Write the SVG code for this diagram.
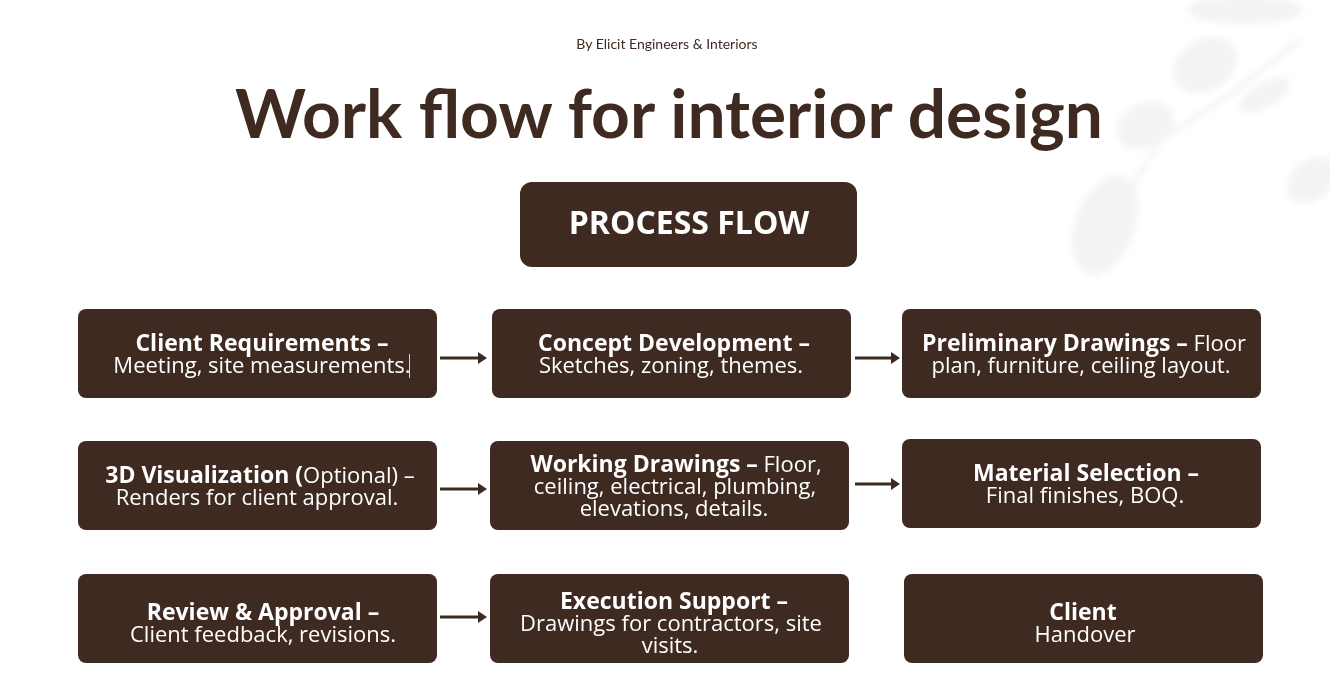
<svg xmlns="http://www.w3.org/2000/svg" width="1330" height="677" viewBox="0 0 1330 677">
<defs>
<style>
.box{fill:#3e2a21;}
.t{font-family:"Open Sans","Liberation Sans",sans-serif;font-size:22px;fill:#ffffff;text-anchor:middle;}
.b{font-weight:700;font-size:23px;}
.conn{stroke:#3e2a21;stroke-width:3;fill:none;}
</style>
<marker id="ah" markerWidth="9" markerHeight="12" refX="2" refY="6" orient="auto" markerUnits="userSpaceOnUse" viewBox="0 0 9 12">
<path d="M0,0 L9,6 L0,12 Z" fill="#3e2a21"/>
</marker>
<filter id="blur" x="-20%" y="-20%" width="140%" height="140%"><feGaussianBlur stdDeviation="3"/></filter>
</defs>
<rect width="1330" height="677" fill="#ffffff"/>
<g id="shadow" fill="#f1f1f1" opacity="0.8" filter="url(#blur)">
<ellipse cx="1205" cy="65" rx="34" ry="26" transform="rotate(-30 1205 65)"/>
<ellipse cx="1145" cy="125" rx="30" ry="22" transform="rotate(-30 1145 125)"/>
<ellipse cx="1105" cy="225" rx="30" ry="52" transform="rotate(20 1105 225)"/>
<ellipse cx="1312" cy="180" rx="28" ry="20" transform="rotate(-40 1312 180)"/>
<ellipse cx="1245" cy="10" rx="58" ry="14"/>
<ellipse cx="1265" cy="95" rx="28" ry="12" transform="rotate(-30 1265 95)"/>
<path d="M1090 260 L1160 140 L1230 95 L1300 40" stroke="#f1f1f1" stroke-width="5" fill="none"/>
</g>
<g id="header">
<text x="667" y="49" font-family="Lato,'Liberation Sans',sans-serif" font-size="14" fill="#3e2a21" text-anchor="middle">By Elicit Engineers &amp; Interiors</text>
<text x="669" y="138" font-family="Lato,'Liberation Sans',sans-serif" font-weight="700" font-size="66" fill="#3e2a21" text-anchor="middle" textLength="868" lengthAdjust="spacingAndGlyphs">Work flow for interior design</text>
</g>
<g id="process-flow">
<rect class="box" x="520" y="182" width="337" height="85" rx="12"/>
<text x="689" y="234" font-family="'Open Sans','Liberation Sans',sans-serif" font-weight="700" font-size="32" fill="#ffffff" text-anchor="middle">PROCESS FLOW</text>
</g>
<g id="connectors">
<line class="conn" x1="440" y1="358" x2="480" y2="358" marker-end="url(#ah)"/>
<line class="conn" x1="855" y1="358" x2="893" y2="358" marker-end="url(#ah)"/>
<line class="conn" x1="440" y1="489" x2="480" y2="489" marker-end="url(#ah)"/>
<line class="conn" x1="855" y1="484" x2="893" y2="484" marker-end="url(#ah)"/>
<line class="conn" x1="440" y1="617" x2="480" y2="617" marker-end="url(#ah)"/>
</g>
<g id="client-requirements">
<rect class="box" x="78" y="309" width="359" height="89" rx="8"/>
<text class="t b" x="262" y="351">Client Requirements –</text>
<text class="t" x="262" y="373">Meeting, site measurements.</text>
<line x1="409.5" y1="354" x2="409.5" y2="378" stroke="#cfd8e0" stroke-width="1"/>
</g>
<g id="concept-development">
<rect class="box" x="492" y="309" width="359" height="89" rx="8"/>
<text class="t b" x="674" y="351">Concept Development –</text>
<text class="t" x="671" y="373">Sketches, zoning, themes.</text>
</g>
<g id="preliminary-drawings">
<rect class="box" x="902" y="309" width="359" height="89" rx="8"/>
<text class="t" x="1084" y="351"><tspan class="b">Preliminary Drawings –</tspan> Floor</text>
<text class="t" x="1081" y="373">plan, furniture, ceiling layout.</text>
</g>
<g id="visualization">
<rect class="box" x="78" y="441" width="359" height="89" rx="8"/>
<text class="t" x="260" y="483"><tspan class="b">3D Visualization (</tspan>Optional) –</text>
<text class="t" x="257" y="505">Renders for client approval.</text>
</g>
<g id="working-drawings">
<rect class="box" x="490" y="441" width="359" height="89" rx="8"/>
<text class="t" x="676" y="472"><tspan class="b">Working Drawings –</tspan> Floor,</text>
<text class="t" x="675" y="494">ceiling, electrical, plumbing,</text>
<text class="t" x="674" y="516">elevations, details.</text>
</g>
<g id="material-selection">
<rect class="box" x="902" y="439" width="359" height="89" rx="8"/>
<text class="t b" x="1086" y="481">Material Selection –</text>
<text class="t" x="1085" y="503">Final finishes, BOQ.</text>
</g>
<g id="review-approval">
<rect class="box" x="78" y="574" width="359" height="89" rx="8"/>
<text class="t b" x="263" y="620">Review &amp; Approval –</text>
<text class="t" x="263" y="642">Client feedback, revisions.</text>
</g>
<g id="execution-support">
<rect class="box" x="490" y="574" width="359" height="89" rx="8"/>
<text class="t b" x="674" y="609">Execution Support –</text>
<text class="t" x="671" y="631">Drawings for contractors, site</text>
<text class="t" x="670" y="653">visits.</text>
</g>
<g id="client-handover">
<rect class="box" x="904" y="574" width="359" height="89" rx="8"/>
<text class="t b" x="1083" y="620">Client</text>
<text class="t" x="1085" y="642">Handover</text>
</g>
</svg>
